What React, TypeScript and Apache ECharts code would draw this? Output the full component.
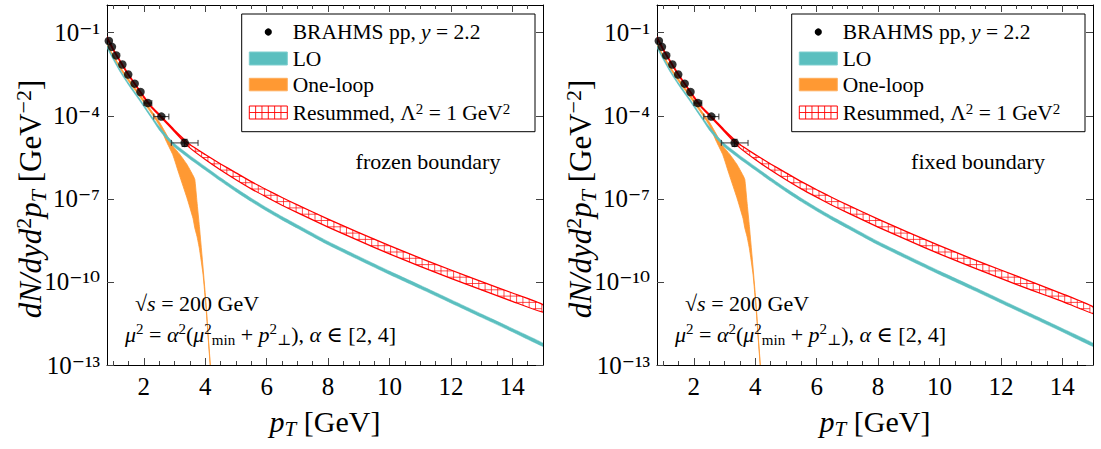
import React, { useEffect, useRef } from "react";
import * as echarts from "echarts";

// ---------- data (log10 of dN/dy d^2pT in GeV^-2) ----------
const ptGrid = [0.8, 1.0, 1.25, 1.5, 1.75, 2.0, 2.25, 2.5, 2.75, 3.0, 3.5, 4.0, 4.5, 5.0, 5.5, 6.0, 6.5, 7.0, 8.0, 9.0, 10.0, 11.0, 12.0, 13.0, 14.0, 15.0];

const loUpper = [-1.46, -1.89, -2.38, -2.81, -3.20, -3.60, -4.01, -4.39, -4.72, -5.01, -5.44, -5.84, -6.24, -6.62, -6.98, -7.32, -7.64, -7.94, -8.54, -9.08, -9.61, -10.12, -10.64, -11.16, -11.68, -12.21];
const loLower = [-1.54, -1.97, -2.46, -2.89, -3.28, -3.68, -4.09, -4.51, -4.84, -5.13, -5.56, -5.96, -6.36, -6.74, -7.10, -7.44, -7.76, -8.06, -8.66, -9.20, -9.73, -10.24, -10.76, -11.28, -11.80, -12.33];

const resFrozenUpper = [-1.15, -1.58, -2.05, -2.50, -2.90, -3.30, -3.66, -3.94, -4.23, -4.52, -5.04, -5.40, -5.74, -6.06, -6.38, -6.67, -6.95, -7.22, -7.73, -8.22, -8.69, -9.14, -9.57, -9.99, -10.40, -10.82];
const resFrozenLower = [-1.19, -1.62, -2.09, -2.54, -2.94, -3.34, -3.70, -3.99, -4.28, -4.58, -5.16, -5.58, -5.96, -6.31, -6.64, -6.94, -7.23, -7.50, -8.02, -8.51, -8.99, -9.44, -9.87, -10.29, -10.70, -11.09];

const resFixedUpper = [-1.15, -1.58, -2.05, -2.50, -2.90, -3.30, -3.66, -3.94, -4.23, -4.52, -5.04, -5.40, -5.74, -6.06, -6.38, -6.67, -6.95, -7.22, -7.73, -8.22, -8.69, -9.14, -9.57, -10.00, -10.43, -10.90];
const resFixedLower = [-1.19, -1.62, -2.09, -2.54, -2.94, -3.34, -3.70, -3.99, -4.28, -4.58, -5.16, -5.58, -5.96, -6.31, -6.64, -6.94, -7.23, -7.50, -8.02, -8.51, -8.99, -9.44, -9.87, -10.30, -10.70, -11.14];

const oneLoopPt = [0.8, 1.0, 1.25, 1.5, 1.75, 2.0, 2.25, 2.5, 2.73, 2.94, 3.16, 3.4, 3.6, 3.66, 3.73, 3.81, 3.93, 4.03, 4.1, 4.18];
const oneLoopUpper = [-1.40, -1.80, -2.26, -2.66, -3.04, -3.42, -3.82, -4.22, -4.66, -5.08, -5.38, -5.75, -6.15, -6.30, -7.10, -8.00, -9.50, -10.85, -12.00, -13.20];
const oneLoopLower = [-1.48, -1.88, -2.34, -2.75, -3.13, -3.52, -3.92, -4.34, -4.92, -5.40, -6.15, -6.95, -7.70, -8.05, -8.35, -8.80, -9.75, -11.00, -12.10, -13.30];

const brahmsPt = [0.86, 0.96, 1.10, 1.30, 1.49, 1.70, 1.89, 2.13, 2.57, 3.33];
const brahmsLog = [-1.30, -1.51, -1.82, -2.15, -2.51, -2.84, -3.14, -3.54, -4.03, -4.98];
const brahmsPtErr = [0, 0, 0, 0, 0, 0, 0, 0.13, 0.245, 0.435];
const brahmsLogErr = [0, 0, 0, 0, 0, 0, 0, 0, 0, 0.13];

const xTickLabels = [2, 4, 6, 8, 10, 12, 14];
const xMinorTicks = [1, 1.5, 2, 2.5, 3, 3.5, 4, 4.5, 5, 5.5, 6, 6.5, 7, 7.5, 8, 8.5, 9, 9.5, 10, 10.5, 11, 11.5, 12, 12.5, 13, 13.5, 14, 14.5];
const yTickExps = [-13, -10, -7, -4, -1];

const panelNotes = ["frozen boundary", "fixed boundary"];

// ---------- styling ----------
const FONT = "'Liberation Serif','DejaVu Serif','Times New Roman',serif";
const CYAN = "#5bbfbf";
const ORANGE = "#ff9933";
const RED = "#ff0000";
const PANEL_DX = 550;

const SUP: Record<string, string> = { "0": "\u2070", "1": "\u00b9", "2": "\u00b2", "3": "\u00b3", "4": "\u2074", "5": "\u2075", "6": "\u2076", "7": "\u2077", "8": "\u2078", "9": "\u2079", "-": "\u207b" };
const supStr = (s: string) => s.split("").map((c) => SUP[c] || c).join("");

function mathRich(size: number) {
  const small = Math.round(size * 0.7);
  return {
    n: { fontFamily: FONT, fontSize: size, color: "#000", lineHeight: Math.round(size * 1.2) },
    i: { fontFamily: FONT, fontSize: size, fontStyle: "italic", color: "#000", lineHeight: Math.round(size * 1.2) },
    sp: { fontFamily: FONT, fontSize: small, color: "#000", verticalAlign: "top" },
    sb: { fontFamily: FONT, fontSize: small, color: "#000", verticalAlign: "bottom" },
    isb: { fontFamily: FONT, fontSize: small, fontStyle: "italic", color: "#000", verticalAlign: "bottom" },
  };
}

function solveLe(a: number, b: number, c: number) {
  if (Math.abs(b) < 1e-9) return a <= c ? [0, 1] : [1, 0];
  const tt = (c - a) / b;
  return b > 0 ? [0, Math.min(1, tt)] : [Math.max(0, tt), 1];
}

function interpY(arr: number[][], gx: number) {
  for (let j = 0; j < arr.length - 1; j++) {
    const a = arr[j], b = arr[j + 1];
    if (gx >= a[0] && gx <= b[0]) {
      const t = (gx - a[0]) / ((b[0] - a[0]) || 1);
      return a[1] + (b[1] - a[1]) * t;
    }
  }
  return arr[arr.length - 1][1];
}

function hatchChildren(top: number[][], bot: number[][], s: number, color: string) {
  const out: any[] = [];
  const x0 = top[0][0], x1 = top[top.length - 1][0];
  const cols: number[][] = [];
  for (let gx = Math.ceil(x0 / s) * s; gx <= x1; gx += s) cols.push([gx, interpY(top, gx), interpY(bot, gx)]);
  const st = { stroke: color, lineWidth: 0.7 };
  for (const c of cols) {
    if (c[2] - c[1] > 1.5) out.push({ type: "line", shape: { x1: c[0], y1: c[1], x2: c[0], y2: c[2] }, style: st });
  }
  for (let k = 0; k < cols.length - 1; k++) {
    const [xa, ta, ba] = cols[k];
    const [xb, tb, bb] = cols[k + 1];
    const ymin = Math.min(ta, tb), ymax = Math.max(ba, bb);
    for (let gy = Math.ceil(ymin / s) * s; gy <= ymax; gy += s) {
      const r1 = solveLe(ta, tb - ta, gy);
      const r2 = solveLe(-ba, -(bb - ba), -gy);
      const t0 = Math.max(r1[0], r2[0]);
      const t1 = Math.min(r1[1], r2[1]);
      if (t1 - t0 > 0.08) {
        out.push({ type: "line", shape: { x1: xa + (xb - xa) * t0, y1: gy, x2: xa + (xb - xa) * t1, y2: gy }, style: st });
      }
    }
  }
  return out;
}

function bandSeries(name: string, xs: number[], up: number[], lo: number[], p: number, style: any, hatch: boolean) {
  return {
    type: "custom",
    name,
    xAxisIndex: p * 4,
    yAxisIndex: p * 2,
    clip: true,
    silent: true,
    encode: { x: 0, y: [1, 2] },
    data: xs.map((x, i) => [x, lo[i], up[i]]),
    renderItem: (params: any, api: any) => {
      if (params.dataIndex !== 0) return null;
      const top = xs.map((x, i) => api.coord([x, up[i]]));
      const bot = xs.map((x, i) => api.coord([x, lo[i]]));
      const pts = top.concat(bot.slice().reverse());
      const children: any[] = [{ type: "polygon", shape: { points: pts, smooth: 0.15 }, style }];
      if (hatch) children.push(...hatchChildren(top, bot, 6.3, RED));
      return { type: "group", children };
    },
  };
}

function errorSeries(p: number) {
  return {
    type: "custom",
    name: "BRAHMS errors",
    xAxisIndex: p * 4,
    yAxisIndex: p * 2,
    silent: true,
    data: brahmsPt.map((x, i) => [x, brahmsLog[i], brahmsPtErr[i], brahmsLogErr[i]]),
    renderItem: (params: any, api: any) => {
      const x = api.value(0), y = api.value(1), xe = api.value(2), ye = api.value(3);
      const st = { stroke: "#333", lineWidth: 1 };
      const ch: any[] = [];
      if (xe > 0) {
        const a = api.coord([x - xe, y]), b = api.coord([x + xe, y]);
        ch.push({ type: "line", shape: { x1: a[0], y1: a[1], x2: b[0], y2: b[1] }, style: st });
        ch.push({ type: "line", shape: { x1: a[0], y1: a[1] - 3, x2: a[0], y2: a[1] + 3 }, style: st });
        ch.push({ type: "line", shape: { x1: b[0], y1: b[1] - 3, x2: b[0], y2: b[1] + 3 }, style: st });
      }
      if (ye > 0) {
        const a = api.coord([x, y + ye]), b = api.coord([x, y - ye]);
        ch.push({ type: "line", shape: { x1: a[0], y1: a[1], x2: b[0], y2: b[1] }, style: st });
        ch.push({ type: "line", shape: { x1: a[0] - 3, y1: a[1], x2: a[0] + 3, y2: a[1] }, style: st });
        ch.push({ type: "line", shape: { x1: b[0] - 3, y1: b[1], x2: b[0] + 3, y2: b[1] }, style: st });
      }
      return { type: "group", children: ch };
    },
  };
}

function xAxes(gi: number) {
  const base = { type: "value", gridIndex: gi, min: 0.8, max: 15, splitLine: { show: false } };
  const tickStyle = { color: "#444", width: 1 };
  return [
    {
      ...base,
      position: "bottom",
      axisLine: { show: true, onZero: false, lineStyle: { color: "#000", width: 1 } },
      axisTick: { show: true, inside: true, length: 7, customValues: xTickLabels, lineStyle: tickStyle },
      axisLabel: { show: true, customValues: xTickLabels, margin: 9, fontFamily: FONT, fontSize: 25, color: "#000", formatter: (v: number) => String(v) },
      name: "{i|p}{isb|T}{n| [GeV]}",
      nameLocation: "middle",
      nameGap: 38,
      nameMoveOverlap: false,
      nameTextStyle: { fontFamily: FONT, fontSize: 30, color: "#000", rich: mathRich(30) },
    },
    {
      ...base,
      position: "bottom",
      axisLine: { show: false, onZero: false },
      axisTick: { show: true, inside: true, length: 4, customValues: xMinorTicks, lineStyle: tickStyle },
      axisLabel: { show: false },
    },
    {
      ...base,
      position: "top",
      axisLine: { show: true, onZero: false, lineStyle: { color: "#000", width: 1 } },
      axisTick: { show: true, inside: true, length: 7, customValues: xTickLabels, lineStyle: tickStyle },
      axisLabel: { show: false },
    },
    {
      ...base,
      position: "top",
      axisLine: { show: false, onZero: false },
      axisTick: { show: true, inside: true, length: 4, customValues: xMinorTicks, lineStyle: tickStyle },
      axisLabel: { show: false },
    },
  ];
}

function yAxes(gi: number) {
  const base = { type: "value", gridIndex: gi, min: -13, max: 0, splitLine: { show: false } };
  const tickStyle = { color: "#444", width: 1 };
  return [
    {
      ...base,
      position: "left",
      axisLine: { show: true, onZero: false, lineStyle: { color: "#000", width: 1 } },
      axisTick: { show: true, inside: true, length: 7, customValues: yTickExps, lineStyle: tickStyle },
      axisLabel: {
        show: true,
        customValues: yTickExps,
        margin: 7,
        fontFamily: FONT,
        fontSize: 25,
        color: "#000",
        formatter: (v: number) => "10" + supStr(String(v)),
      },
      name: "{i|dN/dyd}{sp|2}{i|p}{isb|T}{n| [GeV}{sp|\u22122}{n|]}",
      nameLocation: "middle",
      nameGap: 58,
      nameRotate: 90,
      nameMoveOverlap: false,
      nameTextStyle: { fontFamily: FONT, fontSize: 31, color: "#000", rich: mathRich(31), padding: [0, 28, 0, 0] },
    },
    {
      ...base,
      position: "right",
      axisLine: { show: true, onZero: false, lineStyle: { color: "#000", width: 1 } },
      axisTick: { show: true, inside: true, length: 7, customValues: yTickExps, lineStyle: tickStyle },
      axisLabel: { show: false },
    },
  ];
}

function textEl(x: number, y: number, text: string, size: number, align = "left") {
  return {
    type: "text",
    x,
    y,
    z: 60,
    silent: true,
    style: {
      text,
      fontFamily: FONT,
      fontSize: size,
      fill: "#000",
      align,
      verticalAlign: "middle",
      rich: mathRich(size),
    },
  };
}

function panelGraphics(p: number) {
  const dx = p * PANEL_DX;
  const els: any[] = [];
  const bx = 241.7 + dx;
  const ix = 249.3 + dx;
  const tx = 292.7 + dx;
  els.push({ type: "rect", z: 50, silent: true, shape: { x: bx, y: 14, width: 293.3, height: 117.7 }, style: { fill: "#fff", stroke: "#000", lineWidth: 1 } });
  els.push({ type: "circle", z: 60, silent: true, shape: { cx: ix + 19, cy: 32, r: 3.6 }, style: { fill: "#000" } });
  els.push({ type: "rect", z: 60, silent: true, shape: { x: ix, y: 52, width: 38, height: 13 }, style: { fill: CYAN, stroke: "#7fcfcf", lineWidth: 1 } });
  els.push({ type: "rect", z: 60, silent: true, shape: { x: ix, y: 78.3, width: 38, height: 12.5 }, style: { fill: ORANGE, stroke: "#ffad5c", lineWidth: 1 } });
  els.push({ type: "rect", z: 60, silent: true, shape: { x: ix, y: 106, width: 38, height: 13 }, style: { fill: "#fff", stroke: RED, lineWidth: 1 } });
  for (let k = 1; k < 6; k++) {
    const gx = ix + (38 / 6) * k;
    els.push({ type: "line", z: 60, silent: true, shape: { x1: gx, y1: 106, x2: gx, y2: 119 }, style: { stroke: RED, lineWidth: 0.9 } });
  }
  els.push({ type: "line", z: 60, silent: true, shape: { x1: ix, y1: 112.5, x2: ix + 38, y2: 112.5 }, style: { stroke: RED, lineWidth: 0.9 } });
  els.push(textEl(tx, 32, "BRAHMS pp, {i|y} = 2.2", 21.5));
  els.push(textEl(tx, 58.5, "LO", 21.5));
  els.push(textEl(tx, 84.5, "One-loop", 21.5));
  els.push(textEl(tx, 112.5, "Resummed, \u039b{sp|2} = 1 GeV{sp|2}", 21.5));

  els.push(textEl(428 + dx, 161.7, panelNotes[p], 22, "center"));
  els.push(textEl(135 + dx, 303, "\u221a{i|s} = 200 GeV", 22));
  els.push(textEl(125 + dx, 334, "{i|\u03bc}{sp|2} = {i|\u03b1}{sp|2}({i|\u03bc}{sp|2}{sb|min} + {i|p}{sp|2}{sb|\u22a5}), {i|\u03b1} \u2208 [2, 4]", 22));
  return els;
}

function buildOption() {
  const series: any[] = [];
  const resUp = [resFrozenUpper, resFixedUpper];
  const resLo = [resFrozenLower, resFixedLower];
  for (let p = 0; p < 2; p++) {
    series.push(bandSeries("One-loop", oneLoopPt, oneLoopUpper, oneLoopLower, p, { fill: ORANGE, stroke: ORANGE, lineWidth: 0.8 }, false));
    series.push(bandSeries("LO", ptGrid, loUpper, loLower, p, { fill: CYAN, stroke: CYAN, lineWidth: 0.5 }, false));
    series.push(bandSeries("Resummed, \u039b\u00b2 = 1 GeV\u00b2", ptGrid, resUp[p], resLo[p], p, { fill: "rgba(255,255,255,0)", stroke: RED, lineWidth: 1.3 }, true));
    series.push(errorSeries(p));
    series.push({
      type: "scatter",
      name: "BRAHMS pp, y = 2.2",
      xAxisIndex: p * 4,
      yAxisIndex: p * 2,
      symbol: "circle",
      symbolSize: 8.5,
      itemStyle: { color: "#000" },
      silent: true,
      data: brahmsPt.map((x, i) => [x, brahmsLog[i]]),
    });
  }
  return {
    animation: false,
    backgroundColor: "#fff",
    grid: [
      { left: 107, top: 5, width: 436, height: 360 },
      { left: 107 + PANEL_DX, top: 5, width: 436, height: 360 },
    ],
    xAxis: [...xAxes(0), ...xAxes(1)],
    yAxis: [...yAxes(0), ...yAxes(1)],
    series,
    graphic: { elements: [...panelGraphics(0), ...panelGraphics(1)] },
  };
}

export default function App() {
  const ref = useRef<HTMLDivElement>(null);
  useEffect(() => {
    if (!ref.current) return;
    const chart = echarts.init(ref.current, null, { renderer: "svg" });
    chart.setOption(buildOption() as any);
    return () => chart.dispose();
  }, []);
  return <div ref={ref} style={{ position: "absolute", left: 0, top: 0, width: 1101, height: 449 }} />;
}
